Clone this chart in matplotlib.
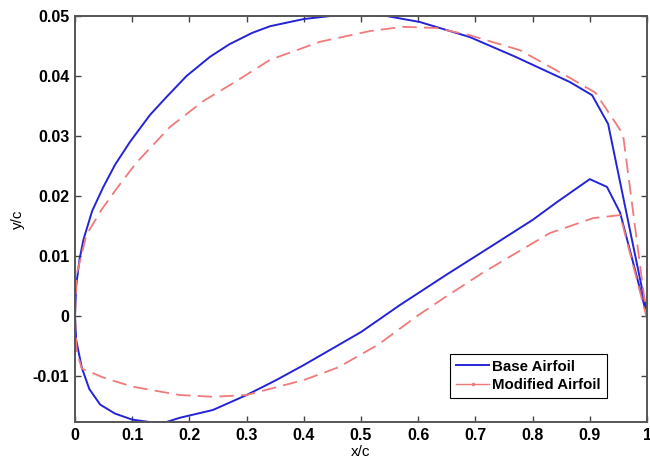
import matplotlib
matplotlib.use("Agg")
import matplotlib.pyplot as plt
from matplotlib.lines import Line2D

# Base airfoil (upper / lower surfaces)
base_upper_x = [0.0, 0.002, 0.008, 0.015, 0.03, 0.049, 0.07, 0.096, 0.131, 0.16, 0.195, 0.236, 0.27, 0.31, 0.341, 0.4, 0.446,
                0.5, 0.545, 0.603, 0.69, 0.77, 0.865, 0.904, 0.932, 1.0]
base_upper_y = [0.0, 0.005, 0.0095, 0.0128, 0.0175, 0.0214, 0.0252, 0.029, 0.0335, 0.0365, 0.040, 0.0432, 0.0453, 0.0472, 0.0483, 0.0495, 0.050,
                0.0503, 0.050, 0.049, 0.0465, 0.0432, 0.039, 0.0368, 0.032, 0.0005]
base_lower_x = [0.0, 0.002, 0.012, 0.025, 0.044, 0.07, 0.1, 0.13, 0.16, 0.183, 0.241, 0.3, 0.35, 0.4, 0.5, 0.568,
                0.65, 0.731, 0.8, 0.843, 0.9, 0.93, 0.953, 1.0]
base_lower_y = [0.0, -0.004, -0.0087, -0.0122, -0.0148, -0.0163, -0.0173, -0.0177, -0.0177, -0.0170, -0.0157, -0.0132, -0.0108, -0.0082, -0.0027, 0.0018,
                0.0069, 0.0118, 0.016, 0.019, 0.0228, 0.0215, 0.0172, 0.0]

# Modified airfoil (upper / lower surfaces)
mod_upper_x = [0.0, 0.003, 0.02, 0.047, 0.075, 0.107, 0.166, 0.224, 0.283, 0.341, 0.428, 0.516, 0.573, 0.632, 0.69, 0.778,
               0.865, 0.91, 0.958, 1.0]
mod_upper_y = [0.0, 0.007, 0.0135, 0.0178, 0.0215, 0.0255, 0.0315, 0.0358, 0.0392, 0.0427, 0.0457, 0.0475, 0.0482, 0.048, 0.0468, 0.0443,
               0.0397, 0.0372, 0.0303, -0.0005]
mod_lower_x = [0.0, 0.003, 0.012, 0.05, 0.1, 0.183, 0.241, 0.3, 0.4, 0.46, 0.53, 0.6, 0.65, 0.713, 0.83, 0.906, 0.953, 1.0]
mod_lower_y = [0.0, -0.006, -0.0088, -0.0103, -0.0118, -0.0132, -0.0135, -0.0132, -0.0107, -0.0086, -0.0048, 0.0001, 0.0033, 0.0072, 0.0138, 0.0163, 0.0168, -0.0005]

x_ticks = [0, 0.1, 0.2, 0.3, 0.4, 0.5, 0.6, 0.7, 0.8, 0.9, 1]
x_tick_labels = ["0", "0.1", "0.2", "0.3", "0.4", "0.5", "0.6", "0.7", "0.8", "0.9", "1"]
y_ticks = [-0.01, 0, 0.01, 0.02, 0.03, 0.04, 0.05]
y_tick_labels = ["-0.01", "0", "0.01", "0.02", "0.03", "0.04", "0.05"]

plt.rcParams['font.family'] = ['Liberation Sans', 'DejaVu Sans']

blue = '#2424d6'
red = '#f07a7a'

fig = plt.figure(figsize=(6.5, 4.58), dpi=100)
ax = fig.add_axes([0.1154, 0.0786, 0.88, 0.8864])

ax.plot(base_upper_x, base_upper_y, color=blue, lw=1.4)
ax.plot(base_lower_x, base_lower_y, color=blue, lw=1.4)
ax.plot(mod_upper_x, mod_upper_y, color=red, lw=1.3, dashes=(8, 4))
ax.plot(mod_lower_x, mod_lower_y, color=red, lw=1.3, dashes=(8, 4))

ax.set_xlim(0, 1)
ax.set_ylim(-0.0177, 0.05)
ax.set_xticks(x_ticks)
ax.set_xticklabels(x_tick_labels, fontsize=11.5, fontweight='bold')
ax.set_yticks(y_ticks)
ax.set_yticklabels(y_tick_labels, fontsize=11.5, fontweight='bold')
ax.tick_params(direction='in', top=True, right=True, length=4, width=1, color='#444444', pad=4)
for s in ax.spines.values():
    s.set_color('#555555')
    s.set_linewidth(1.4)

ax.set_xlabel('x/c', fontsize=11, labelpad=2)
ax.set_ylabel('y/c', fontsize=11, labelpad=6)

handles = [Line2D([], [], color=blue, lw=1.4),
           Line2D([], [], color=red, lw=1.0, marker='.', markersize=3)]
leg = ax.legend(handles, ['Base Airfoil', 'Modified Airfoil'], loc='lower right',
                bbox_to_anchor=(0.93, 0.059), borderaxespad=0, prop={'weight': 'bold', 'size': 10.8},
                fancybox=False, edgecolor='black', framealpha=1, handlelength=2.2,
                handletextpad=0.2, borderpad=0.4, labelspacing=0.3)
leg.get_frame().set_linewidth(0.8)

fig.savefig('out.png', dpi=100)
